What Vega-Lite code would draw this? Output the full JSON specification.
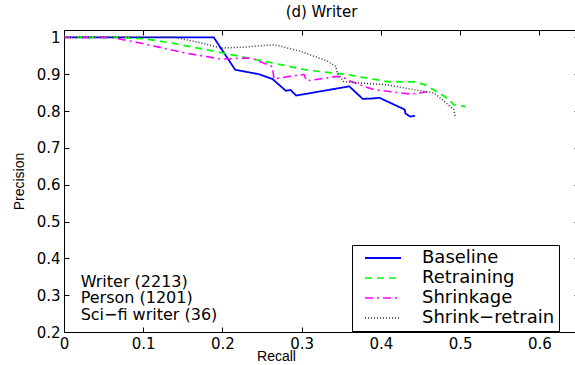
{
  "$schema": "https://vega.github.io/schema/vega-lite/v6.json",
  "autosize": {"type": "none"},
  "padding": {"left": 64, "top": 30, "right": 0, "bottom": 33},
  "width": 515,
  "height": 302,
  "background": "white",
  "title": {"text": "(d) Writer", "font": "DejaVu Sans", "fontSize": 15, "fontWeight": "normal", "offset": 10, "color": "black"},
  "config": {
    "view": {"stroke": "black", "strokeWidth": 1},
    "axis": {"domainColor": "black", "tickColor": "black", "labelColor": "black", "titleColor": "black", "grid": false, "labelFont": "DejaVu Sans", "labelFontSize": 15, "titleFont": "Liberation Sans", "titleFontSize": 14, "titleFontWeight": "normal", "tickSize": -5, "labelPadding": 9}
  },
  "datasets": {
    "curves": [
      {"s": "Baseline", "i": 0, "x": 0, "y": 1},
      {"s": "Baseline", "i": 1, "x": 0.189, "y": 1},
      {"s": "Baseline", "i": 2, "x": 0.216, "y": 0.912},
      {"s": "Baseline", "i": 3, "x": 0.246, "y": 0.9},
      {"s": "Baseline", "i": 4, "x": 0.263, "y": 0.887},
      {"s": "Baseline", "i": 5, "x": 0.28, "y": 0.855},
      {"s": "Baseline", "i": 6, "x": 0.286, "y": 0.857},
      {"s": "Baseline", "i": 7, "x": 0.293, "y": 0.842},
      {"s": "Baseline", "i": 8, "x": 0.36, "y": 0.867},
      {"s": "Baseline", "i": 9, "x": 0.377, "y": 0.833},
      {"s": "Baseline", "i": 10, "x": 0.389, "y": 0.834},
      {"s": "Baseline", "i": 11, "x": 0.398, "y": 0.836},
      {"s": "Baseline", "i": 12, "x": 0.427, "y": 0.807},
      {"s": "Baseline", "i": 13, "x": 0.43, "y": 0.804},
      {"s": "Baseline", "i": 14, "x": 0.431, "y": 0.793},
      {"s": "Baseline", "i": 15, "x": 0.437, "y": 0.785},
      {"s": "Baseline", "i": 16, "x": 0.443, "y": 0.787},
      {"s": "Retraining", "i": 0, "x": 0, "y": 1},
      {"s": "Retraining", "i": 1, "x": 0.07, "y": 1},
      {"s": "Retraining", "i": 2, "x": 0.101, "y": 0.996},
      {"s": "Retraining", "i": 3, "x": 0.135, "y": 0.985},
      {"s": "Retraining", "i": 4, "x": 0.19, "y": 0.962},
      {"s": "Retraining", "i": 5, "x": 0.232, "y": 0.944},
      {"s": "Retraining", "i": 6, "x": 0.269, "y": 0.928},
      {"s": "Retraining", "i": 7, "x": 0.307, "y": 0.911},
      {"s": "Retraining", "i": 8, "x": 0.358, "y": 0.899},
      {"s": "Retraining", "i": 9, "x": 0.375, "y": 0.892},
      {"s": "Retraining", "i": 10, "x": 0.408, "y": 0.88},
      {"s": "Retraining", "i": 11, "x": 0.442, "y": 0.879},
      {"s": "Retraining", "i": 12, "x": 0.456, "y": 0.871},
      {"s": "Retraining", "i": 13, "x": 0.484, "y": 0.835},
      {"s": "Retraining", "i": 14, "x": 0.492, "y": 0.817},
      {"s": "Retraining", "i": 15, "x": 0.507, "y": 0.812},
      {"s": "Shrinkage", "i": 0, "x": 0, "y": 1},
      {"s": "Shrinkage", "i": 1, "x": 0.06, "y": 1},
      {"s": "Shrinkage", "i": 2, "x": 0.093, "y": 0.986},
      {"s": "Shrinkage", "i": 3, "x": 0.152, "y": 0.958},
      {"s": "Shrinkage", "i": 4, "x": 0.198, "y": 0.941},
      {"s": "Shrinkage", "i": 5, "x": 0.236, "y": 0.944},
      {"s": "Shrinkage", "i": 6, "x": 0.263, "y": 0.921},
      {"s": "Shrinkage", "i": 7, "x": 0.265, "y": 0.887},
      {"s": "Shrinkage", "i": 8, "x": 0.29, "y": 0.896},
      {"s": "Shrinkage", "i": 9, "x": 0.303, "y": 0.899},
      {"s": "Shrinkage", "i": 10, "x": 0.306, "y": 0.882},
      {"s": "Shrinkage", "i": 11, "x": 0.345, "y": 0.894},
      {"s": "Shrinkage", "i": 12, "x": 0.358, "y": 0.887},
      {"s": "Shrinkage", "i": 13, "x": 0.362, "y": 0.88},
      {"s": "Shrinkage", "i": 14, "x": 0.391, "y": 0.858},
      {"s": "Shrinkage", "i": 15, "x": 0.438, "y": 0.846},
      {"s": "Shrinkage", "i": 16, "x": 0.461, "y": 0.853},
      {"s": "Shrink−retrain", "i": 0, "x": 0, "y": 1},
      {"s": "Shrink−retrain", "i": 1, "x": 0.14, "y": 1},
      {"s": "Shrink−retrain", "i": 2, "x": 0.173, "y": 0.985},
      {"s": "Shrink−retrain", "i": 3, "x": 0.198, "y": 0.971},
      {"s": "Shrink−retrain", "i": 4, "x": 0.232, "y": 0.974},
      {"s": "Shrink−retrain", "i": 5, "x": 0.265, "y": 0.98},
      {"s": "Shrink−retrain", "i": 6, "x": 0.299, "y": 0.962},
      {"s": "Shrink−retrain", "i": 7, "x": 0.333, "y": 0.935},
      {"s": "Shrink−retrain", "i": 8, "x": 0.343, "y": 0.921},
      {"s": "Shrink−retrain", "i": 9, "x": 0.345, "y": 0.903},
      {"s": "Shrink−retrain", "i": 10, "x": 0.353, "y": 0.88},
      {"s": "Shrink−retrain", "i": 11, "x": 0.375, "y": 0.876},
      {"s": "Shrink−retrain", "i": 12, "x": 0.408, "y": 0.871},
      {"s": "Shrink−retrain", "i": 13, "x": 0.442, "y": 0.858},
      {"s": "Shrink−retrain", "i": 14, "x": 0.467, "y": 0.849},
      {"s": "Shrink−retrain", "i": 15, "x": 0.48, "y": 0.826},
      {"s": "Shrink−retrain", "i": 16, "x": 0.492, "y": 0.804},
      {"s": "Shrink−retrain", "i": 17, "x": 0.494, "y": 0.781}
    ],
    "notes": [
      {"label": "Writer (2213)\nPerson (1201)\nSci−fi writer (36)", "x": 0.021, "y": 0.336}
    ]
  },
  "layer": [
    {
      "data": {"name": "curves"},
      "mark": {"type": "line", "clip": true},
      "encoding": {
        "x": {"field": "x", "type": "quantitative", "title": "Recall", "scale": {"domain": [0, 0.65], "nice": false, "zero": false},
              "axis": {"orient": "bottom", "values": [0, 0.1, 0.2, 0.3, 0.4, 0.5, 0.6], "format": ".1~f", "titlePadding": -2, "titleX": 212, "labelFlush": false}},
        "y": {"field": "y", "type": "quantitative", "title": "Precision", "scale": {"domain": [0.2, 1.02], "nice": false, "zero": false},
              "axis": {"values": [0.2, 0.3, 0.4, 0.5, 0.6, 0.7, 0.8, 0.9, 1], "format": ".1~f", "titlePadding": 10, "labelFlush": false}},
        "order": {"field": "i", "type": "quantitative"},
        "color": {"field": "s", "type": "nominal", "title": null,
                  "scale": {"domain": ["Baseline", "Retraining", "Shrinkage", "Shrink−retrain"], "range": ["#0000ff", "#00ff00", "#ff00ff", "#333333"]},
                  "legend": {"orient": "none", "legendX": 288, "legendY": 215, "symbolType": "M0,0H6", "symbolSize": 144, "symbolStrokeWidth": 1.5, "labelFont": "DejaVu Sans", "labelFontSize": 18, "labelColor": "black", "labelOffset": 48, "rowPadding": 2, "padding": 4, "strokeColor": "black", "fillColor": "white", "symbolOffset": 0, "labelLimit": 300}},
        "strokeDash": {"field": "s", "type": "nominal",
                  "scale": {"domain": ["Baseline", "Retraining", "Shrinkage", "Shrink−retrain"], "range": [[1, 0], [7, 5], [8, 4, 2, 4], [1, 2]]}},
        "strokeWidth": {"field": "s", "type": "nominal", "legend": null,
                  "scale": {"domain": ["Baseline", "Retraining", "Shrinkage", "Shrink−retrain"], "range": [1.8, 1.5, 2.5, 1]}}
      }
    },
    {
      "data": {"name": "notes"},
      "mark": {"type": "text", "align": "left", "baseline": "middle", "font": "DejaVu Sans", "fontSize": 16, "lineBreak": "\n", "lineHeight": 16.5, "color": "black"},
      "encoding": {
        "x": {"field": "x", "type": "quantitative", "axis": {"orient": "top", "labels": false, "title": null, "values": [0, 0.1, 0.2, 0.3, 0.4, 0.5, 0.6]}},
        "y": {"field": "y", "type": "quantitative", "axis": {"orient": "right", "labels": false, "title": null, "values": [0.2, 0.3, 0.4, 0.5, 0.6, 0.7, 0.8, 0.9, 1]}},
        "text": {"field": "label", "type": "nominal"}
      }
    }
  ],
  "resolve": {"axis": {"x": "independent", "y": "independent"}}
}
